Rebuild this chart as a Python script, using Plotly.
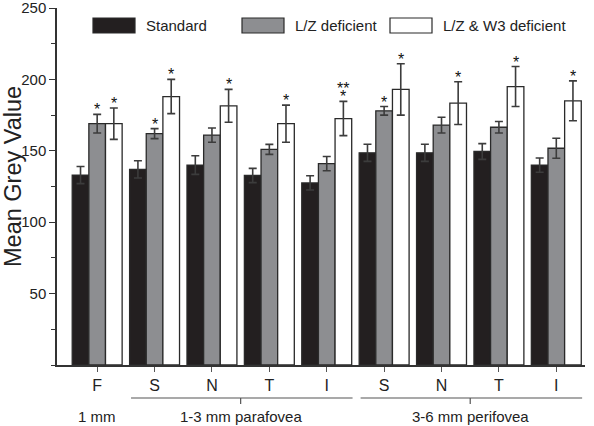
import plotly.graph_objects as go

# ---- data ----
categories = ["F", "S", "N", "T", "I", "S", "N", "T", "I"]
series_names = ["Standard", "L/Z deficient", "L/Z & W3 deficient"]
std_vals = [133, 137, 140, 132.7, 127.5, 148.6, 148.6, 149.5, 140]
std_err = [6, 6, 6.5, 5, 5, 6, 6, 5.5, 5]
lz_vals = [169, 162, 161, 151, 141, 178, 168, 166.5, 151.8]
lz_err = [6.5, 3.5, 5, 3.5, 5, 3, 5.5, 4, 7]
w3_vals = [169, 188, 181.5, 169, 172.6, 193, 183.4, 195, 185]
w3_err = [11, 12, 11.5, 13, 12, 18, 15, 14, 14]
std_sig = ["", "", "", "", "", "", "", "", ""]
lz_sig = ["*", "*", "", "", "", "*", "", "", ""]
w3_sig = ["*", "*", "*", "*", "**|*", "*", "*", "*", "*"]
region_names = ["1 mm", "1-3 mm parafovea", "3-6 mm perifovea"]
region_spans = [(0, 0), (1, 4), (5, 8)]
y_title = "Mean Grey Value"

# ---- style ----
colors = ["#231f20", "#8d8e91", "#ffffff"]
outline = "#2a2a2a"
err_color = "#3c3c3c"
FONT = "Liberation Sans, Arial, Helvetica, sans-serif"
W, H = 594, 426
ML, MR, MT, MB = 57, 9, 8, 61
bargap = 0.13
x_idx = list(range(len(categories)))

fig = go.Figure()
all_vals = [std_vals, lz_vals, w3_vals]
all_err = [std_err, lz_err, w3_err]
all_sig = [std_sig, lz_sig, w3_sig]
for name, vals, errs, col in zip(series_names, all_vals, all_err, colors):
    fig.add_trace(go.Bar(
        x=x_idx, y=vals, name=name,
        marker=dict(color=col, line=dict(color=outline, width=1.3)),
        error_y=dict(type="data", array=errs, visible=True,
                     color=err_color, thickness=1.6, width=4),
        showlegend=False,
    ))

# significance stars
bw = (1 - bargap) / 3
for s, (vals, errs, sigs) in enumerate(zip(all_vals, all_err, all_sig)):
    for i, (v, e, sg) in enumerate(zip(vals, errs, sigs)):
        if not sg:
            continue
        lines = sg.split("|")
        for k, line in enumerate(reversed(lines)):
            fig.add_annotation(x=i + (s - 1) * bw, y=v + e, xref="x", yref="y",
                               text=line, showarrow=False, yanchor="bottom",
                               yshift=-6 + 8 * k,
                               font=dict(family=FONT, size=16, color="#111"))

# pixel helpers for layout placement
pw = W - ML - MR
ph = H - MT - MB
def px_x(p):
    return (p - ML) / pw
def px_y(p):
    return (H - MB - p) / ph

# custom legend
legend_x = [93, 242, 390]
for name, col, lx in zip(series_names, colors, legend_x):
    fig.add_shape(type="rect", xref="paper", yref="paper",
                  x0=px_x(lx), x1=px_x(lx + 42), y0=px_y(33), y1=px_y(18),
                  fillcolor=col, line=dict(color=outline, width=1.2))
    fig.add_annotation(xref="paper", yref="paper", x=px_x(lx + 51), y=px_y(25.5),
                       text=name, showarrow=False, xanchor="left", yanchor="middle",
                       font=dict(family=FONT, size=15, color="#222"))

# y-axis title
fig.add_annotation(xref="paper", yref="paper", x=px_x(13), y=px_y(177),
                   text=y_title, textangle=-90, showarrow=False,
                   xanchor="center", yanchor="middle",
                   font=dict(family=FONT, size=23.5, color="#222"))

# region brackets below x-axis
for rname, (a, b) in zip(region_names, region_spans):
    xc = (a + b) / 2
    if b > a:
        fig.add_shape(type="line", xref="x", yref="paper",
                      x0=a - 0.41, x1=b + 0.45, y0=px_y(398), y1=px_y(398),
                      line=dict(color="#555", width=1.2))
        fig.add_shape(type="line", xref="x", yref="paper",
                      x0=xc, x1=xc, y0=px_y(398), y1=px_y(404),
                      line=dict(color="#555", width=1.2))
    fig.add_annotation(xref="x", yref="paper", x=xc, y=px_y(416),
                       text=rname, showarrow=False, yanchor="middle",
                       font=dict(family=FONT, size=15, color="#222"))

fig.update_layout(
    width=W, height=H,
    margin=dict(l=ML, r=MR, t=MT, b=MB, autoexpand=False),
    paper_bgcolor="white", plot_bgcolor="white",
    barmode="group", bargap=bargap, bargroupgap=0,
    font=dict(family=FONT, color="#222"),
)
fig.update_xaxes(
    range=[-0.7, 8.5], tickvals=x_idx, ticktext=categories, automargin=False,
    showgrid=False, zeroline=False, showline=True, linecolor="#333", linewidth=1.5,
    ticks="outside", ticklen=5, tickcolor="#555", tickwidth=1.2,
    tickfont=dict(family=FONT, size=16, color="#222"),
)
fig.update_yaxes(
    range=[0, 250], tickvals=[50, 100, 150, 200, 250], automargin=False,
    ticklabeloverflow="allow",
    showgrid=False, zeroline=False, showline=True, linecolor="#333", linewidth=1.5,
    ticks="outside", ticklen=6, tickcolor="#333", tickwidth=1.2,
    minor=dict(ticks="outside", dtick=25, tick0=0, ticklen=4, tickcolor="#333"),
    tickfont=dict(family=FONT, size=15, color="#222"),
)

fig.write_html("out.html", config={"displayModeBar": False},
               post_script="document.body.style.margin='0px';")
